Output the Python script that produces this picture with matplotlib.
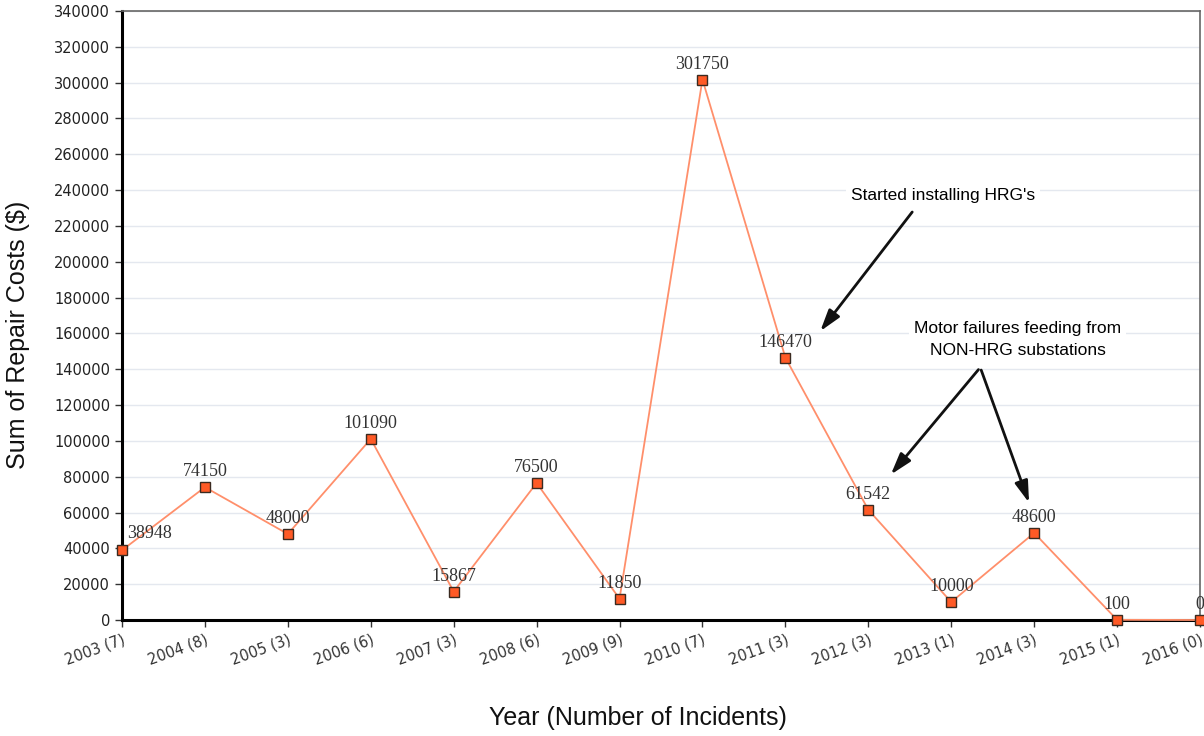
import matplotlib
matplotlib.use("Agg")
import matplotlib.pyplot as plt

years = ["2003 (7)", "2004 (8)", "2005 (3)", "2006 (6)", "2007 (3)", "2008 (6)", "2009 (9)",
         "2010 (7)", "2011 (3)", "2012 (3)", "2013 (1)", "2014 (3)", "2015 (1)", "2016 (0)"]
costs = [38948, 74150, 48000, 101090, 15867, 76500, 11850, 301750, 146470, 61542, 10000, 48600, 100, 0]
yticks = list(range(0, 340001, 20000))

fig = plt.figure(figsize=(12.04, 7.36), dpi=100)
ax = fig.add_axes([122/1204, 1-620/736, (1200-122)/1204, (620-11)/736])
x = list(range(len(years)))
ax.plot(x, costs, color="#ff8f6b", lw=1.3, zorder=3, clip_on=False)
ax.plot(x, costs, ls="none", marker="s", ms=7, mfc="#ff5a26", mec="#3a2a20", mew=1.0,
        zorder=4, clip_on=False)
ax.set_xlim(0, len(years)-1)
ax.set_ylim(0, 340000)
ax.set_yticks(yticks)
ax.set_yticklabels([str(v) for v in yticks], fontsize=10.5, color="#222222", family="DejaVu Sans")
ax.set_xticks(x)
ax.set_xticklabels(years, rotation=20, ha="right", rotation_mode="anchor", fontsize=10.5,
                   color="#333333", family="DejaVu Sans")
ax.grid(axis="y", color="#e4e8ef", lw=1)
ax.set_axisbelow(True)
for s in ["left", "bottom"]:
    ax.spines[s].set_color("black"); ax.spines[s].set_linewidth(2.2)
for s in ["top", "right"]:
    ax.spines[s].set_color("#666666"); ax.spines[s].set_linewidth(1.2)
ax.tick_params(axis="both", length=5, width=1, color="#333333")

for i, v in enumerate(costs):
    if i == 0:
        ax.annotate(str(v), (i, v), xytext=(4, 6), textcoords="offset points", ha="left",
                    va="bottom", family="Liberation Serif", fontsize=13, color="#333333")
    else:
        ax.annotate(str(v), (i, v), xytext=(0, 5), textcoords="offset points", ha="center",
                    va="bottom", family="Liberation Serif", fontsize=13, color="#333333")

ax.set_ylabel("Sum of Repair Costs ($)", fontsize=18, color="#111111", family="Liberation Sans")
ax.yaxis.set_label_coords(-(122-30)/1078, 0.468)
fig.text(0.53, 1-718/736, "Year (Number of Incidents)", ha="center", va="center", fontsize=18,
         color="#111111", family="Liberation Sans")

bbox = dict(boxstyle="square,pad=0.3", fc="white", ec="none")
arr = dict(arrowstyle="-|>,head_length=1.3,head_width=0.4", color="#111111", lw=2)
ax.text(9.9, 237000, "Started installing HRG's", ha="center", va="center", fontsize=12.5,
        family="Liberation Sans", bbox=bbox, zorder=5)
ax.annotate("", xy=(8.4, 160000), xytext=(9.55, 229000), arrowprops=arr)
ax.text(10.8, 156500, "Motor failures feeding from\nNON-HRG substations", ha="center", va="center",
        fontsize=12.5, family="Liberation Sans", bbox=bbox, zorder=5, linespacing=1.6)
ax.annotate("", xy=(9.25, 80000), xytext=(10.35, 141000), arrowprops=arr)
ax.annotate("", xy=(10.95, 64000), xytext=(10.35, 141000), arrowprops=arr)

fig.savefig("out.png", dpi=100)
